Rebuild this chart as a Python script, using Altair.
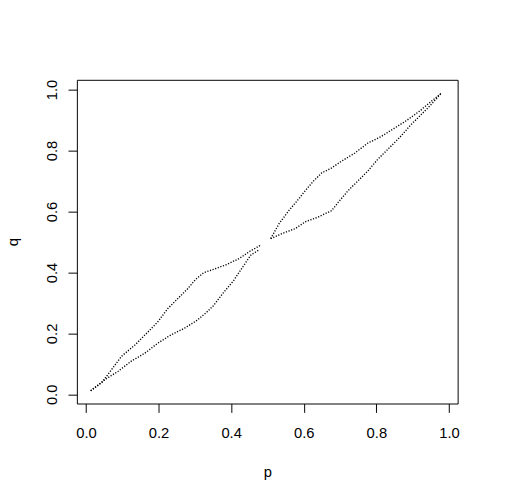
import altair as alt
import pandas as pd

# Lower loop, upper branch
a_p = [0.013, 0.044, 0.071, 0.098, 0.135, 0.171, 0.198, 0.225, 0.252, 0.279, 0.302, 0.324, 0.351, 0.388, 0.424, 0.451, 0.482]
a_q = [0.012, 0.039, 0.082, 0.125, 0.162, 0.205, 0.238, 0.281, 0.313, 0.345, 0.377, 0.399, 0.410, 0.426, 0.447, 0.469, 0.490]
# Lower loop, lower branch
b_p = [0.013, 0.053, 0.089, 0.125, 0.162, 0.198, 0.234, 0.270, 0.306, 0.333, 0.351, 0.379, 0.406, 0.433, 0.455, 0.477]
b_q = [0.012, 0.049, 0.076, 0.109, 0.135, 0.168, 0.195, 0.216, 0.243, 0.270, 0.291, 0.334, 0.372, 0.420, 0.458, 0.474]
# Upper loop, upper branch
c_p = [0.509, 0.532, 0.559, 0.586, 0.604, 0.627, 0.650, 0.677, 0.704, 0.740, 0.776, 0.812, 0.848, 0.884, 0.921, 0.948, 0.979]
c_q = [0.511, 0.560, 0.603, 0.641, 0.668, 0.700, 0.727, 0.743, 0.765, 0.791, 0.824, 0.845, 0.872, 0.899, 0.931, 0.958, 0.988]
# Upper loop, lower branch
d_p = [0.509, 0.541, 0.577, 0.604, 0.640, 0.677, 0.695, 0.722, 0.749, 0.776, 0.803, 0.830, 0.866, 0.894, 0.921, 0.948, 0.979]
d_q = [0.511, 0.528, 0.544, 0.566, 0.582, 0.603, 0.630, 0.668, 0.700, 0.732, 0.770, 0.802, 0.845, 0.883, 0.915, 0.947, 0.988]

tick_vals = [0.0, 0.2, 0.4, 0.6, 0.8, 1.0]

rows = []
for name, ps, qs in [("A", a_p, a_q), ("B", b_p, b_q), ("C", c_p, c_q), ("D", d_p, d_q)]:
    for i, (p, q) in enumerate(zip(ps, qs)):
        rows.append({"p": p, "q": q, "branch": name, "idx": i})
df = pd.DataFrame(rows)

FONT = "Liberation Sans"

chart = alt.Chart(df).mark_line(
    color="black", strokeWidth=1.4, strokeDash=[1.2, 1.6]
).encode(
    x=alt.X("p:Q", scale=alt.Scale(domain=[-0.025, 1.024], nice=False, zero=False),
            axis=alt.Axis(values=tick_vals, format=".1f", title="p", grid=False, domain=False,
                          tickSize=9, tickColor="black", labelFontSize=15, labelFont=FONT,
                          labelColor="black", labelBaseline="alphabetic", labelPadding=26,
                          labelFlush=False, labelOverlap=False,
                          titleFont=FONT, titleFontSize=15, titleFontWeight="normal",
                          titleColor="black", titleBaseline="alphabetic", titleY=74)),
    y=alt.Y("q:Q", scale=alt.Scale(domain=[-0.030, 1.032], nice=False, zero=False),
            axis=alt.Axis(values=tick_vals, format=".1f", title="q", grid=False, domain=False,
                          tickSize=9, tickColor="black", labelFontSize=15, labelFont=FONT,
                          labelColor="black", labelAngle=270, labelAlign="center",
                          labelBaseline="alphabetic", labelPadding=12,
                          labelFlush=False, labelOverlap=False,
                          titleFont=FONT, titleFontSize=15, titleFontWeight="normal",
                          titleColor="black", titleAngle=270, titleAlign="center",
                          titleBaseline="alphabetic", titleX=-60)),
    detail="branch:N",
    order="idx:Q",
).properties(
    width=387, height=329,
    autosize=alt.AutoSizeParams(type="none"),
    padding={"left": 70, "top": 69, "right": 40, "bottom": 90},
    background="white",
).configure_view(
    stroke="black", strokeWidth=1, strokeOpacity=1
)

chart.save("out.html", embed_options={"renderer": "svg", "actions": False})
